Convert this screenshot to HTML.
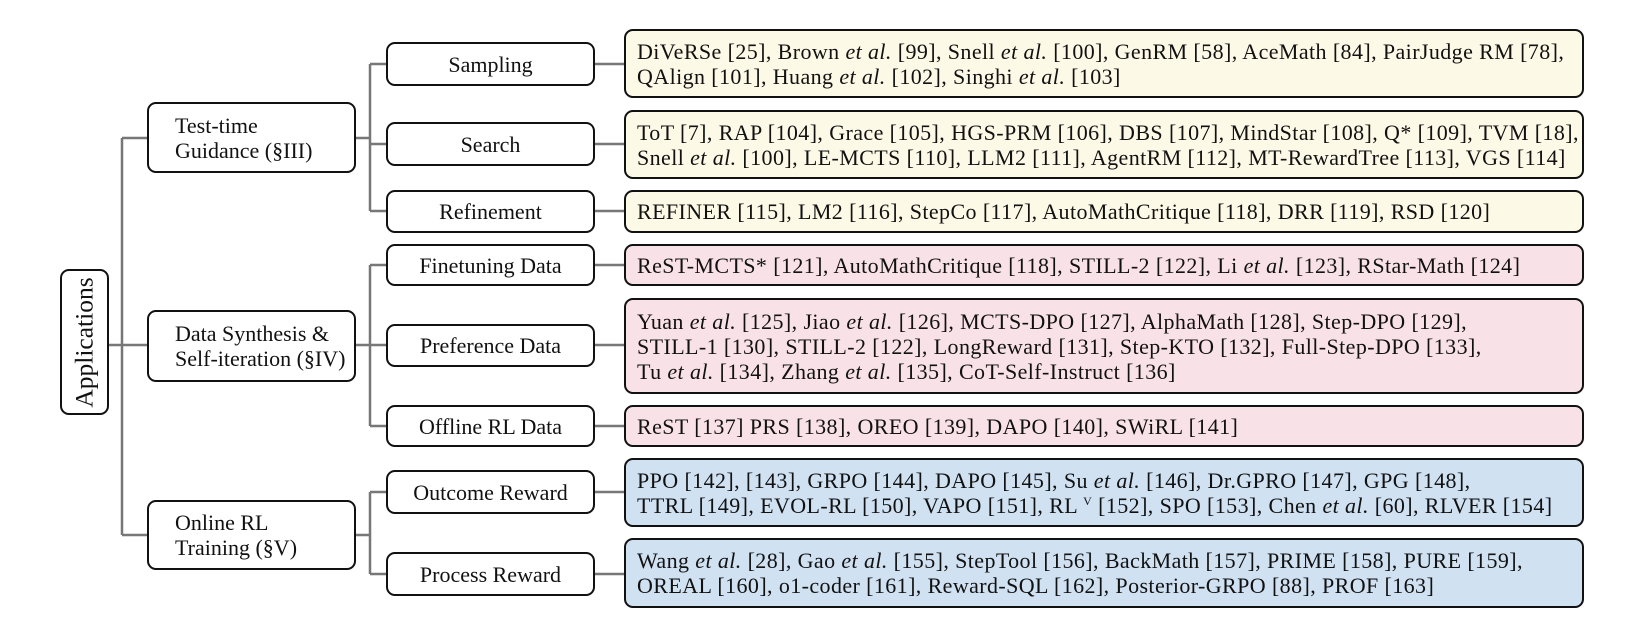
<!DOCTYPE html>
<html><head><meta charset="utf-8"><style>
body{margin:0;width:1639px;height:635px;background:#fff;position:relative;overflow:hidden;font-family:"Liberation Serif",serif;color:#111}
.b{position:absolute;box-sizing:border-box;border:2.5px solid #111;border-radius:9px;display:flex;align-items:center;font-size:22px;line-height:25px}
.c{justify-content:center;text-align:center;white-space:nowrap}
.l1{padding-left:26px}
.l3{padding-left:11px;white-space:nowrap;letter-spacing:0.4px}
.y{background:#fdf9e7}.p{background:#f8e2e8}.u{background:#d0e1f2}
svg{position:absolute;left:0;top:0}
</style></head><body>
<svg width="1639" height="635">
<g stroke="#777" stroke-width="2.5" fill="none">
<path d="M109 345H122M122 138V535M122 138H147M122 345H147M122 535H147"/>
<path d="M356 138H370M370 64V211M370 64H386M370 144H386M370 211H386"/>
<path d="M356 345H370M370 265V426M370 265H386M370 345H386M370 426H386"/>
<path d="M356 535H370M370 492V574M370 492H386M370 574H386"/>
<path d="M595 64H624M595 144H624M595 211H624M595 265H624M595 345H624M595 426H624M595 492H624M595 574H624"/>
</g></svg>
<div class="b c" style="left:60px;top:269px;width:49px;height:146px"><span style="transform:rotate(-90deg);white-space:nowrap;font-size:25.5px">Applications</span></div>
<div class="b l1" style="left:147px;top:102px;width:209px;height:71px">Test-time<br>Guidance (§III)</div>
<div class="b l1" style="left:147px;top:310px;width:209px;height:72px">Data Synthesis &amp;<br>Self-iteration (§IV)</div>
<div class="b l1" style="left:147px;top:500px;width:209px;height:70px">Online RL<br>Training (§V)</div>
<div class="b c" style="left:386px;top:42px;width:209px;height:44px">Sampling</div>
<div class="b c" style="left:386px;top:122px;width:209px;height:44px">Search</div>
<div class="b c" style="left:386px;top:190px;width:209px;height:43px">Refinement</div>
<div class="b c" style="left:386px;top:244px;width:209px;height:42px">Finetuning Data</div>
<div class="b c" style="left:386px;top:324px;width:209px;height:43px">Preference Data</div>
<div class="b c" style="left:386px;top:405px;width:209px;height:42px">Offline RL Data</div>
<div class="b c" style="left:386px;top:470px;width:209px;height:44px">Outcome Reward</div>
<div class="b c" style="left:386px;top:552px;width:209px;height:44px">Process Reward</div>
<div class="b l3 y" style="left:624px;top:29px;width:960px;height:69px"><div>DiVeRSe [25], Brown <i>et al.</i> [99], Snell <i>et al.</i> [100], GenRM [58], AceMath [84], PairJudge RM [78],<br>QAlign [101], Huang <i>et al.</i> [102], Singhi <i>et al.</i> [103]</div></div>
<div class="b l3 y" style="left:624px;top:110px;width:960px;height:69px"><div>ToT [7], RAP [104], Grace [105], HGS-PRM [106], DBS [107], MindStar [108], Q* [109], TVM [18],<br>Snell <i>et al.</i> [100], LE-MCTS [110], LLM2 [111], AgentRM [112], MT-RewardTree [113], VGS [114]</div></div>
<div class="b l3 y" style="left:624px;top:190px;width:960px;height:43px">REFINER [115], LM2 [116], StepCo [117], AutoMathCritique [118], DRR [119], RSD [120]</div>
<div class="b l3 p" style="left:624px;top:244px;width:960px;height:42px"><div>ReST-MCTS* [121], AutoMathCritique [118], STILL-2 [122], Li <i>et al.</i> [123], RStar-Math [124]</div></div>
<div class="b l3 p" style="left:624px;top:298px;width:960px;height:96px"><div>Yuan <i>et al.</i> [125], Jiao <i>et al.</i> [126], MCTS-DPO [127], AlphaMath [128], Step-DPO [129],<br>STILL-1 [130], STILL-2 [122], LongReward [131], Step-KTO [132], Full-Step-DPO [133],<br>Tu <i>et al.</i> [134], Zhang <i>et al.</i> [135], CoT-Self-Instruct [136]</div></div>
<div class="b l3 p" style="left:624px;top:405px;width:960px;height:42px">ReST [137] PRS [138], OREO [139], DAPO [140], SWiRL [141]</div>
<div class="b l3 u" style="left:624px;top:458px;width:960px;height:69px"><div>PPO [142], [143], GRPO [144], DAPO [145], Su <i>et al.</i> [146], Dr.GPRO [147], GPG [148],<br>TTRL [149], EVOL-RL [150], VAPO [151], RL <span style="font-size:12px;vertical-align:8px;line-height:0">V</span> [152], SPO [153], Chen <i>et al.</i> [60], RLVER [154]</div></div>
<div class="b l3 u" style="left:624px;top:538px;width:960px;height:70px"><div>Wang <i>et al.</i> [28], Gao <i>et al.</i> [155], StepTool [156], BackMath [157], PRIME [158], PURE [159],<br>OREAL [160], o1-coder [161], Reward-SQL [162], Posterior-GRPO [88], PROF [163]</div></div>
</body></html>
